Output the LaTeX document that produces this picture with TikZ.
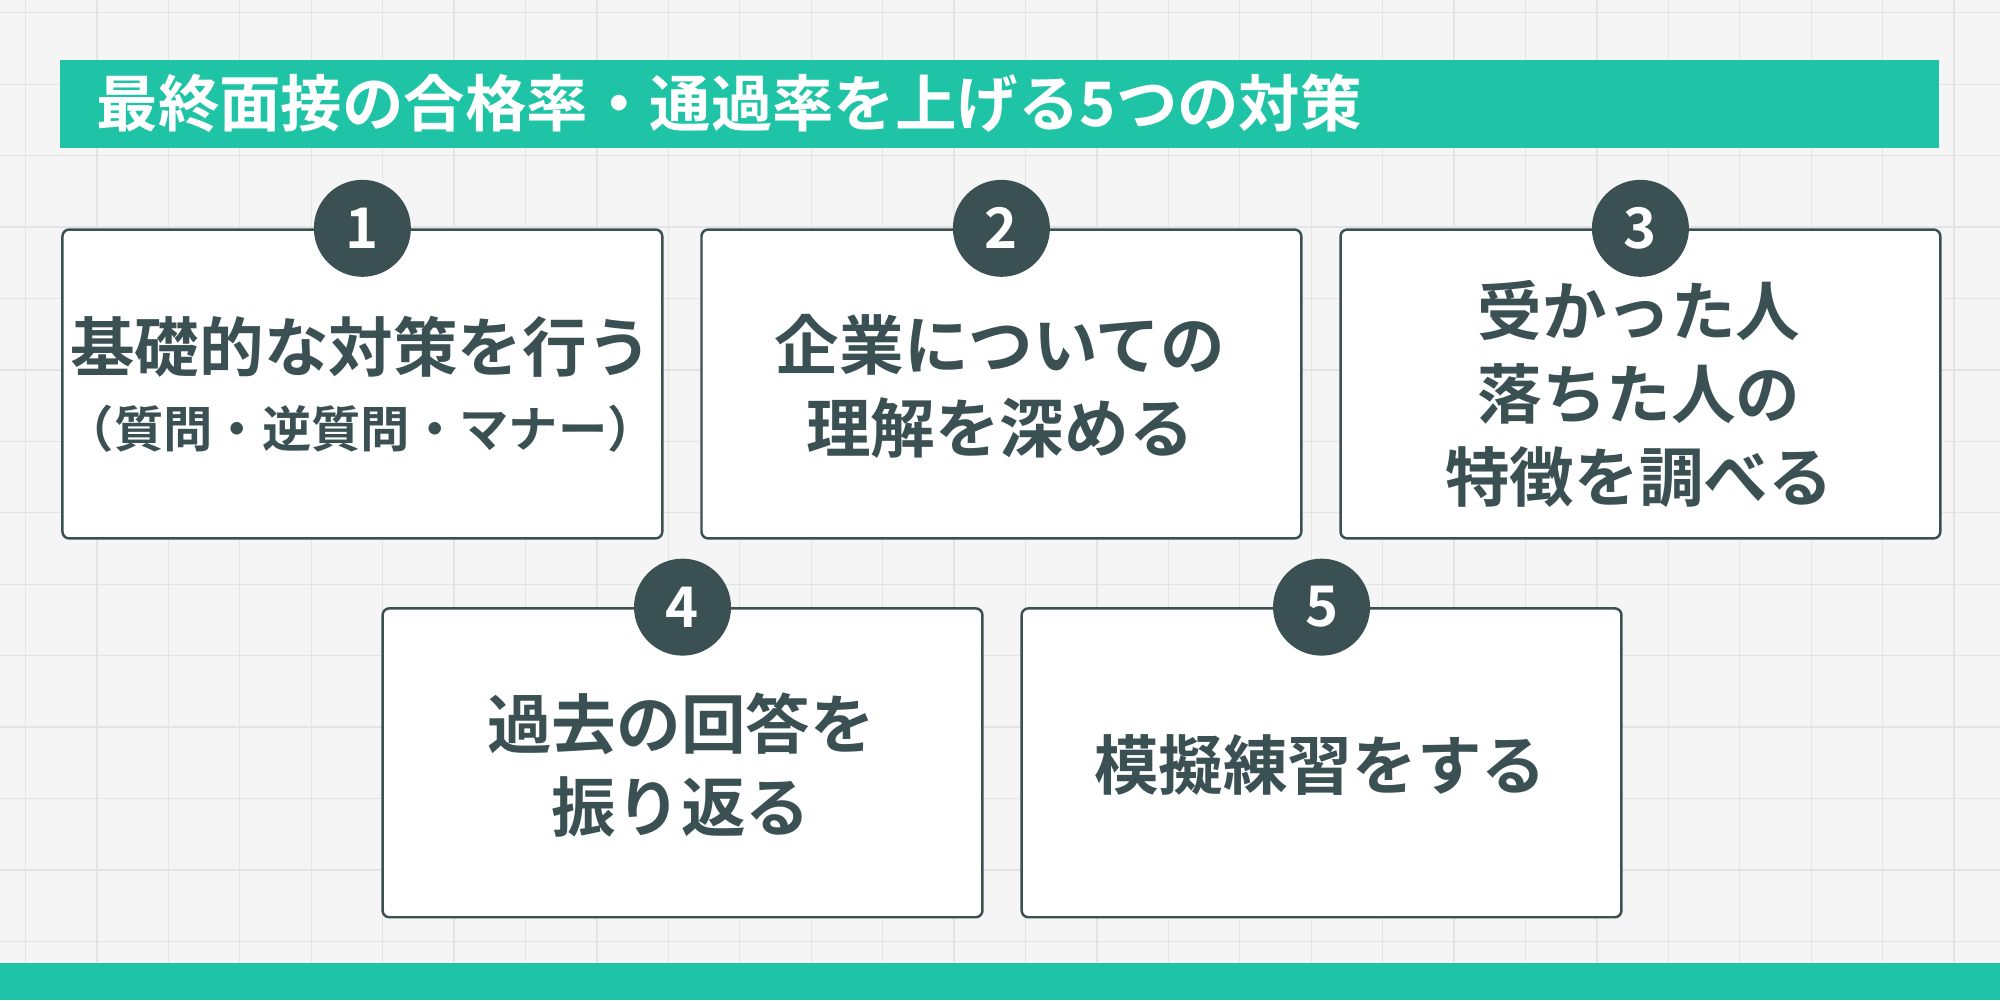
\documentclass[tikz,border=0pt]{standalone}
\usepackage{fontspec}
\setmainfont{Noto Sans CJK JP}[BoldFont={* Bold}]
\definecolor{grn}{HTML}{1FC4A6}
\definecolor{dk}{HTML}{3A5052}
\definecolor{bg}{HTML}{F5F5F5}
\definecolor{gl}{HTML}{E4E4E4}
\tikzset{
 card/.style={draw=dk,line width=0.55pt,rounded corners=1.5pt,fill=white,minimum width=4.7cm,minimum height=2.42cm,anchor=north west},
 num/.style={circle,fill=dk,minimum size=0.76cm,inner sep=0pt,text=white,font=\bfseries\fontsize{12.5}{12}\selectfont},
 txt/.style={text=dk,font=\bfseries\fontsize{14.4}{18.5}\selectfont,align=center},
 sub/.style={text=dk,font=\bfseries\fontsize{11}{12}\selectfont,align=center}
}
\begin{document}
\begin{tikzpicture}[yscale=-1,x=0.01cm,y=0.01cm]
\useasboundingbox (0,0) rectangle (1568,784);
\fill[bg] (0,0) rectangle (1568,784);
\foreach \i in {0,...,28} {\draw[gl,line width=0.3pt] (\i*56+20,0) -- (\i*56+20,784);}
\foreach \i in {0,...,14} {\draw[gl,line width=0.3pt] (0,\i*56+10) -- (1568,\i*56+10);}
\fill[grn] (47,47) rectangle (1520,116);
\node[anchor=west,text=white,font=\bfseries\fontsize{13.7}{14}\selectfont,inner sep=0pt] (title) at (75,81) {最終面接の合格率・通過率を上げる5つの対策};
\fill[grn] (0,755) rectangle (1568,784);
\node[card] (c1) at (48,179) {};
\node[card] (c2) at (549,179) {};
\node[card] (c3) at (1050,179) {};
\node[card] (c4) at (299,476) {};
\node[card] (c5) at (800,476) {};
\foreach \c/\n in {c1/1,c2/2,c3/3,c4/4,c5/5} {\node[num] (n\n) at (\c.north) {\n};}
\node[txt] (t1) at (283,272) {基礎的な対策を行う};
\node[sub] (s1) at (283,336) {（質問・逆質問・マナー）};
\node[txt] (t2) at (784,303) {企業についての\\理解を深める};
\node[txt] (t3) at (1285,309) {受かった人\\落ちた人の\\特徴を調べる};
\node[txt] (t4) at (534,600) {過去の回答を\\振り返る};
\node[txt] (t5) at (1035,600) {模擬練習をする};
\end{tikzpicture}
\end{document}
